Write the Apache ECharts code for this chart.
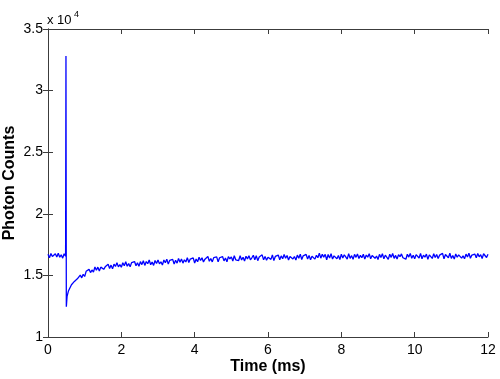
<!DOCTYPE html>
<html>
<head>
<meta charset="utf-8">
<script src="https://cdn.jsdelivr.net/npm/echarts@6/dist/echarts.min.js"></script>
<style>
html,body{margin:0;padding:0;background:#fff;}
#chart{width:500px;height:379px;}
</style>
</head>
<body>
<div id="chart"></div>
<script>
// ---- data ----
const xTicks = [0, 2, 4, 6, 8, 10, 12];
const yTicks = [10000, 15000, 20000, 25000, 30000, 35000];

// before the pulse (ms, counts)
const preTimes  = [0.00, 0.04, 0.08, 0.12, 0.16, 0.20, 0.24, 0.28, 0.32, 0.36, 0.40, 0.44, 0.48];
const preCounts = [16720, 16440, 16770, 16530, 16390, 16750, 16500, 16800, 16470, 16670, 16400, 16760, 16550];

// pulse spike and dip
const spikeTimes  = [0.49, 0.50];
const spikeCounts = [32800, 12460];

// recovery, sampled every 0.04 ms from 0.52 ms to 12 ms
const postStart = 0.52;
const postStep = 0.04;
const postCounts = [
  13300, 13760, 13820, 14240, 14190, 14510, 14360, 14720, 14710, 15030, 14800, 15090, 14910, 15330,
  15220, 15490, 15230, 15440, 15260, 15690, 15420, 15670, 15350, 15670, 15780, 15495, 15695, 15575,
  15905, 15555, 15835, 15530, 15915, 15730, 16025, 15690, 15875, 15660, 16030, 15790, 16110, 15740,
  15960, 15700, 16038, 15886, 16124, 15782, 16030, 15738, 16116, 15874, 16192,
  15810, 16128, 15945, 16252, 15870, 16077, 15814, 16211, 15958, 16255, 15935, 16102, 15839, 16246,
  16023, 16320, 15916, 16222, 16078, 16304, 15920, 16226, 15992, 16378, 16074,
  16340, 15996, 16262, 16088, 16444, 16050, 16325, 16190, 16425, 16010, 16326, 16112, 16468, 16204,
  16430, 16085, 16320, 16175, 16530, 16145, 16370, 16095, 16440, 16285, 16500,
  16100, 16434, 16278, 16532, 16176, 16410, 16104, 16528, 16332, 16506, 16170, 16594, 16268, 16412,
  16206, 16590, 16254, 16478, 16162, 16556, 16340, 16594, 16268, 16432, 16636,
  16270, 16602, 16194, 16486, 16338, 16670, 16262, 16544, 16236, 16468, 16610, 16302, 16664, 16206,
  16538, 16400, 16652, 16274, 16586, 16358, 16690, 16402, 16614, 16256, 16538,
  16670, 16332, 16534, 16246, 16648, 16400, 16722, 16294, 16586, 16448, 16700, 16332, 16624, 16276,
  16548, 16680, 16320, 16630, 16430, 16800, 16400, 16710, 16480, 16710, 16270,
  16695, 16405, 16755, 16325, 16585, 16665, 16355, 16615, 16285, 16725, 16415, 16675, 16495, 16315,
  16765, 16385, 16605, 16305, 16705, 16465, 16735, 16365, 16625, 16435, 16715,
  16325, 16655, 16475, 16765, 16355, 16615, 16725, 16385, 16575, 16295, 16705, 16445, 16755, 16345,
  16645, 16505, 16305, 16715, 16465, 16775, 16385, 16625, 16335, 16685, 16515,
  16745, 16435, 16595, 16315, 16715, 16485, 16785, 16385, 16635, 16345, 16685, 16525, 16415, 16775,
  16355, 16645, 16475, 16725, 16305, 16665, 16585, 16375, 16755, 16455, 16695,
  16365, 16645, 16505, 16785, 16345, 16695, 16535, 16435, 16795, 16385, 16615, 16325, 16745, 16475,
  16665, 16765, 16405, 16585, 16355, 16725, 16495, 16805, 16395, 16655, 16515,
  16735, 16435, 16775, 16505, 16685, 16365, 16755, 16605, 16455, 16715
];

const xLabel = 'Time (ms)';
const yLabel = 'Photon Counts';
const yExponent = '4';

// ---- build series data ----
const seriesData = [];
preTimes.forEach((t, i) => seriesData.push([t, preCounts[i]]));
spikeTimes.forEach((t, i) => seriesData.push([t, spikeCounts[i]]));
postCounts.forEach((c, i) => seriesData.push([+(postStart + i * postStep).toFixed(2), c]));

const FONT = '"Liberation Sans", Arial, sans-serif';
const axisColor = '#3c3c3c';

const chart = echarts.init(document.getElementById('chart'), null, {renderer: 'canvas'});
chart.setOption({
  animation: false,
  backgroundColor: '#ffffff',
  grid: {left: 48, right: 12, top: 29, bottom: 42, containLabel: false, outerBoundsMode: 'none'},
  xAxis: [
    {
      type: 'value', min: xTicks[0], max: xTicks[xTicks.length - 1], interval: 2,
      position: 'bottom',
      name: xLabel, nameLocation: 'middle', nameGap: 22, nameMoveOverlap: false,
      nameTextStyle: {fontFamily: FONT, fontSize: 16, fontWeight: 'bold', color: '#000'},
      axisLine: {show: true, lineStyle: {color: axisColor, width: 1}},
      axisTick: {show: true, inside: true, length: 5, lineStyle: {color: axisColor}},
      axisLabel: {show: true, margin: 6, fontFamily: FONT, fontSize: 14, color: '#000'},
      splitLine: {show: false}
    },
    {
      type: 'value', min: xTicks[0], max: xTicks[xTicks.length - 1], interval: 2,
      position: 'top',
      axisLine: {show: true, lineStyle: {color: axisColor, width: 1}},
      axisTick: {show: true, inside: true, length: 5, lineStyle: {color: axisColor}},
      axisLabel: {show: false},
      splitLine: {show: false}
    }
  ],
  yAxis: [
    {
      type: 'value', min: yTicks[0], max: yTicks[yTicks.length - 1], interval: 5000,
      position: 'left',
      name: yLabel, nameLocation: 'middle', nameGap: 30, nameMoveOverlap: false,
      nameTextStyle: {fontFamily: FONT, fontSize: 16, fontWeight: 'bold', color: '#000'},
      axisLine: {show: true, lineStyle: {color: axisColor, width: 1}},
      axisTick: {show: true, inside: true, length: 5, lineStyle: {color: axisColor}},
      axisLabel: {show: true, margin: 5, fontFamily: FONT, fontSize: 14, color: '#000',
        formatter: v => String(+(v / 10000).toFixed(1))},
      splitLine: {show: false}
    },
    {
      type: 'value', min: yTicks[0], max: yTicks[yTicks.length - 1], interval: 5000,
      position: 'right',
      axisLine: {show: true, lineStyle: {color: axisColor, width: 1}},
      axisTick: {show: true, inside: true, length: 5, lineStyle: {color: axisColor}},
      axisLabel: {show: false},
      splitLine: {show: false}
    }
  ],
  graphic: [
    {type: 'text', left: 47, top: 14, style: {text: 'x 10', fontFamily: FONT, fontSize: 13, fill: '#000'}},
    {type: 'text', left: 74, top: 10, style: {text: yExponent, fontFamily: FONT, fontSize: 9, fill: '#000'}}
  ],
  series: [{
    type: 'line',
    xAxisIndex: 0, yAxisIndex: 0,
    data: seriesData,
    showSymbol: false,
    symbol: 'none',
    lineStyle: {color: '#0000ff', width: 1.3},
    z: 3
  }]
});
</script>
</body>
</html>
